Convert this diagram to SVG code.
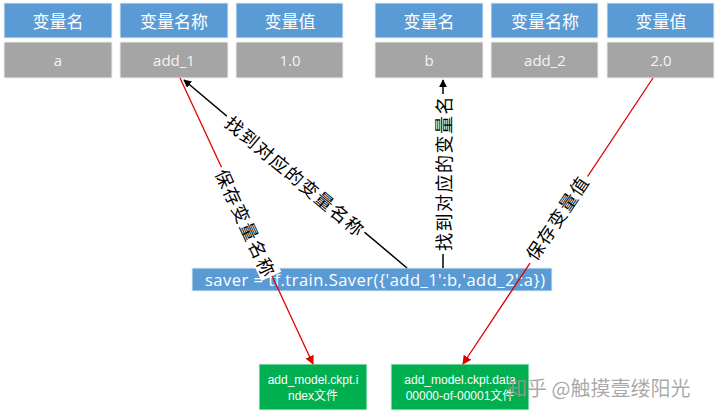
<svg xmlns="http://www.w3.org/2000/svg" width="720" height="417" viewBox="0 0 720 417">
<style>
.hdr{fill:#5B9BD5;stroke:#e8eef6;stroke-width:1}
.val{fill:#A5A5A5;stroke:#eeeeee;stroke-width:1}
.ht{font-family:"Noto Sans CJK SC","Liberation Sans",sans-serif;font-size:17px;fill:#fff;text-anchor:middle;dominant-baseline:central}
.vt{font-family:"Open Sans","Liberation Sans",sans-serif;font-size:15px;fill:#f4f4f4;text-anchor:middle;dominant-baseline:central}
.lbl{font-family:"Noto Sans CJK SC",sans-serif;font-size:18px;letter-spacing:1.5px;fill:#000;text-anchor:middle;dominant-baseline:central}
.gt{font-family:"Liberation Sans","Noto Sans CJK SC",sans-serif;font-size:12px;fill:#fff;text-anchor:middle}
.blk{stroke:#000;stroke-width:1.5;fill:none}
.red{stroke:#E00000;stroke-width:1.3;fill:none}
</style>
<defs>
<marker id="ab" viewBox="0 0 10 10" refX="9" refY="5" markerWidth="8" markerHeight="8" markerUnits="userSpaceOnUse" orient="auto"><path d="M0,0 L10,5 L0,10 z" fill="#000"/></marker>
<marker id="ar" viewBox="0 0 10 10" refX="9" refY="5" markerWidth="9" markerHeight="9" markerUnits="userSpaceOnUse" orient="auto"><path d="M0,0 L10,5 L0,10 z" fill="#E00000"/></marker>
</defs>
<rect width="720" height="417" fill="#fff"/>
<g id="t1"><rect class="hdr" x="4" y="3" width="108" height="35"/><text class="ht" x="58" y="20">变量名</text><rect class="val" x="4" y="42" width="108" height="36"/><text class="vt" x="58" y="60">a</text></g>
<g id="t2"><rect class="hdr" x="120" y="3" width="108" height="35"/><text class="ht" x="174" y="20">变量名称</text><rect class="val" x="120" y="42" width="108" height="36"/><text class="vt" x="174" y="60">add_1</text></g>
<g id="t3"><rect class="hdr" x="236" y="3" width="107" height="35"/><text class="ht" x="290" y="20">变量值</text><rect class="val" x="236" y="42" width="107" height="36"/><text class="vt" x="290" y="60">1.0</text></g>
<g id="t4"><rect class="hdr" x="375" y="3" width="108" height="35"/><text class="ht" x="429" y="20">变量名</text><rect class="val" x="375" y="42" width="108" height="36"/><text class="vt" x="429" y="60">b</text></g>
<g id="t5"><rect class="hdr" x="491" y="3" width="107" height="35"/><text class="ht" x="545" y="20">变量名称</text><rect class="val" x="491" y="42" width="107" height="36"/><text class="vt" x="545" y="60">add_2</text></g>
<g id="t6"><rect class="hdr" x="607" y="3" width="107" height="35"/><text class="ht" x="661" y="20">变量值</text><rect class="val" x="607" y="42" width="107" height="36"/><text class="vt" x="661" y="60">2.0</text></g>
<g id="saver"><rect x="192" y="268" width="360" height="23" fill="#5B9BD5" stroke="#e8eef6" stroke-width="1"/><text x="375" y="285.5" font-family="'Open Sans','Liberation Sans',sans-serif" font-size="16.5" fill="#fff" text-anchor="middle" textLength="340">saver = tf.train.Saver({'add_1':b,'add_2':a})</text></g>
<g id="f1"><rect x="259" y="364" width="108" height="46" fill="#00B050" stroke="#e6f5ec" stroke-width="1"/><text class="gt" x="313" y="384">add_model.ckpt.i</text><text class="gt" x="313" y="400">ndex文件</text></g>
<g id="f2"><rect x="391" y="364" width="138" height="46" fill="#00B050" stroke="#e6f5ec" stroke-width="1"/><text class="gt" x="460" y="384">add_model.ckpt.data</text><text class="gt" x="460" y="400">00000-of-00001文件</text></g>
<g id="connectors">
<line class="blk" x1="407" y1="268" x2="184" y2="80" marker-end="url(#ab)"/>
<line class="blk" x1="443" y1="268" x2="443" y2="80" marker-end="url(#ab)"/>
<line class="red" x1="180" y1="78" x2="313" y2="364" marker-end="url(#ar)"/>
<line class="red" x1="653" y1="78" x2="463" y2="364" marker-end="url(#ar)"/>
<g transform="translate(295,175) rotate(40)"><rect x="-90" y="-11" width="180" height="22" fill="#fff"/><text class="lbl" x="1" y="0">找到对应的变量名称</text></g>
<g transform="translate(443,174) rotate(-90)"><rect x="-80" y="-11" width="160" height="22" fill="#fff"/><text class="lbl" x="1" y="0">找到对应的变量名</text></g>
<g transform="translate(246,222) rotate(65)"><rect x="-60" y="-11" width="120" height="22" fill="#fff"/><text class="lbl" x="1" y="0">保存变量名称</text></g>
<g transform="translate(556,218) rotate(-56)"><rect x="-52" y="-11" width="104" height="22" fill="#fff"/><text class="lbl" x="1" y="0">保存变量值</text></g>
</g>
<text x="507" y="396" font-family="'Noto Sans CJK SC',sans-serif" font-size="20" fill="#9a9a9a" fill-opacity="0.85">知乎 @触摸壹缕阳光</text>
</svg>
